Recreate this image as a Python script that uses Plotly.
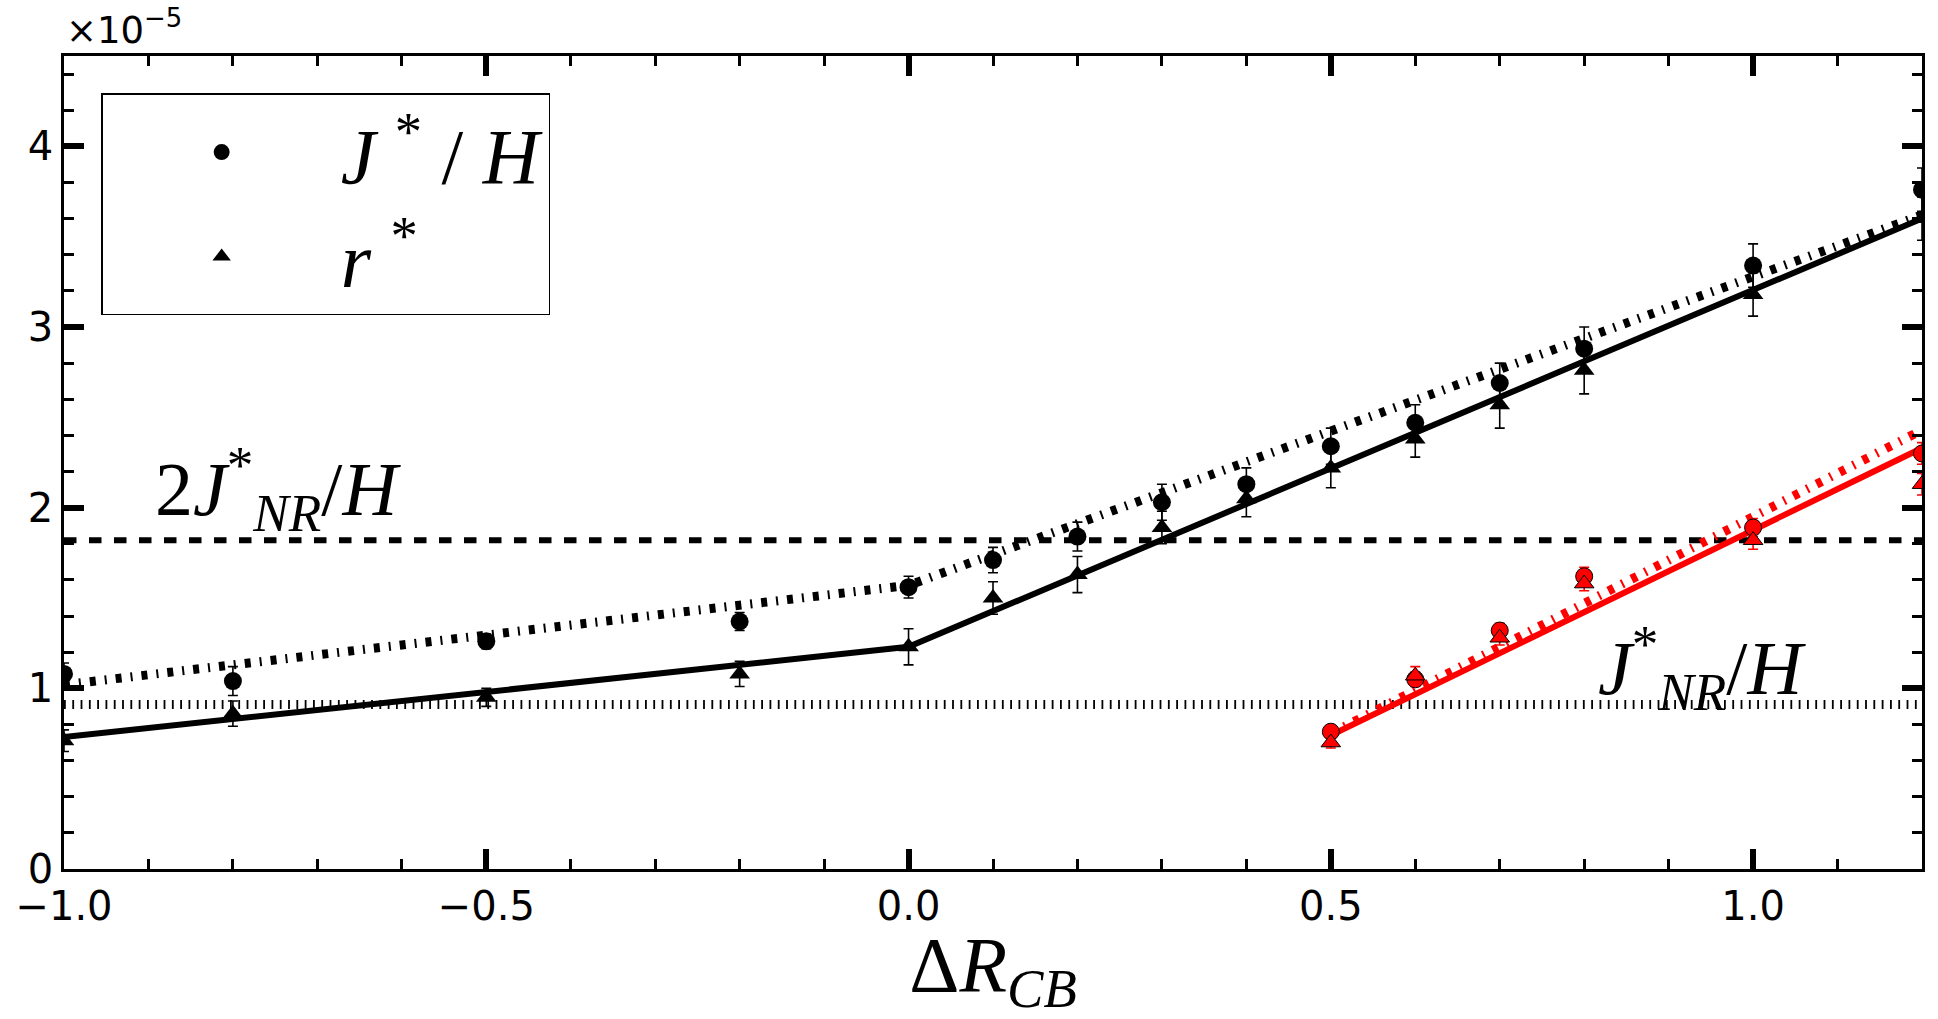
import plotly.graph_objects as go

# ---- data (values in units of 1e-5) ----
dR_black = [-1.0, -0.8, -0.5, -0.2, 0.0, 0.1, 0.2, 0.3, 0.4, 0.5, 0.6, 0.7, 0.8, 1.0, 1.2]
J_black = [1.08, 1.04, 1.26, 1.37, 1.56, 1.71, 1.84, 2.03, 2.13, 2.34, 2.47, 2.69, 2.88, 3.34, 3.76]
J_black_err = [0.06, 0.08, 0.04, 0.05, 0.06, 0.07, 0.08, 0.10, 0.09, 0.10, 0.10, 0.11, 0.12, 0.12, 0.12]
r_black = [0.71, 0.86, 0.95, 1.08, 1.23, 1.50, 1.63, 1.89, 2.05, 2.22, 2.38, 2.57, 2.76, 3.18, 3.60]
r_black_err = [0.06, 0.07, 0.05, 0.07, 0.10, 0.09, 0.10, 0.09, 0.10, 0.11, 0.10, 0.13, 0.13, 0.12, 0.12]

dR_red = [0.5, 0.6, 0.7, 0.8, 1.0, 1.2]
J_red = [0.76, 1.05, 1.32, 1.62, 1.89, 2.30]
J_red_err = [0.03, 0.04, 0.04, 0.05, 0.05, 0.06]
r_red = [0.70, 1.07, 1.28, 1.58, 1.82, 2.13]
r_red_err = [0.03, 0.05, 0.04, 0.04, 0.05, 0.06]

fitJ_black_x = [-1.0, 0.0, 1.2]
fitJ_black_y = [1.02, 1.57, 3.62]
fitr_black_x = [-1.0, 0.0, 1.2]
fitr_black_y = [0.73, 1.23, 3.60]
fitJ_red_x = [0.5, 1.2]
fitJ_red_y = [0.75, 2.43]
fitr_red_x = [0.5, 1.2]
fitr_red_y = [0.74, 2.33]

J_NR = 0.91          # J*_NR/H
two_J_NR = 1.82      # 2 J*_NR/H
x_range = [-1.0, 1.2]
y_range = [0, 4.5]
x_ticks = [-1.0, -0.5, 0.0, 0.5, 1.0]
y_ticks = [0, 1, 2, 3, 4]

MATH = "Liberation Serif"
TICKF = "DejaVu Sans"

fig = go.Figure()

# reference horizontal lines
fig.add_trace(go.Scatter(x=x_range, y=[two_J_NR, two_J_NR], mode="lines",
                         line=dict(color="black", width=6, dash="12.5px,12.5px"),
                         showlegend=False, hoverinfo="skip"))
fig.add_trace(go.Scatter(x=x_range, y=[J_NR, J_NR], mode="lines",
                         line=dict(color="black", width=9, dash="1.8px,6.5px"),
                         showlegend=False, hoverinfo="skip"))

# fit lines
dashdot = "6px,9px,2px,9px"
fig.add_trace(go.Scatter(x=fitJ_black_x, y=fitJ_black_y, mode="lines",
                         line=dict(color="black", width=9, dash=dashdot),
                         showlegend=False, hoverinfo="skip"))
fig.add_trace(go.Scatter(x=fitr_black_x, y=fitr_black_y, mode="lines",
                         line=dict(color="black", width=6),
                         showlegend=False, hoverinfo="skip"))
fig.add_trace(go.Scatter(x=fitJ_red_x, y=fitJ_red_y, mode="lines",
                         line=dict(color="red", width=9, dash=dashdot),
                         showlegend=False, hoverinfo="skip"))
fig.add_trace(go.Scatter(x=fitr_red_x, y=fitr_red_y, mode="lines",
                         line=dict(color="red", width=6),
                         showlegend=False, hoverinfo="skip"))

# data points
fig.add_trace(go.Scatter(x=dR_black, y=J_black, mode="markers",
                         name="<i>J</i> <sup>*</sup> / <i>H</i>",
                         marker=dict(symbol="circle", size=18, color="black"),
                         error_y=dict(type="data", array=J_black_err, color="black",
                                      thickness=1.6, width=5)))
fig.add_trace(go.Scatter(x=dR_black, y=r_black, mode="markers",
                         name="<i>r</i> <sup>*</sup>",
                         marker=dict(symbol="triangle-up", size=18, color="black"),
                         error_y=dict(type="data", array=r_black_err, color="black",
                                      thickness=1.6, width=5)))
fig.add_trace(go.Scatter(x=dR_red, y=J_red, mode="markers", showlegend=False,
                         marker=dict(symbol="circle", size=17, color="red",
                                     line=dict(color="black", width=1)),
                         error_y=dict(type="data", array=J_red_err, color="red",
                                      thickness=1.6, width=5)))
fig.add_trace(go.Scatter(x=dR_red, y=r_red, mode="markers", showlegend=False,
                         marker=dict(symbol="triangle-up", size=17, color="red",
                                     line=dict(color="black", width=1)),
                         error_y=dict(type="data", array=r_red_err, color="red",
                                      thickness=1.6, width=5)))

axis_common = dict(showline=True, linecolor="black", linewidth=2.5, mirror="allticks",
                   ticks="inside", ticklen=20, tickwidth=6, tickcolor="black",
                   showgrid=False, zeroline=False,
                   tickfont=dict(family=TICKF, size=40, color="black"))

fig.update_xaxes(range=x_range, tickvals=x_ticks, tickformat=".1f",
                 minor=dict(dtick=0.1, tick0=-1.0, ticks="inside", ticklen=10,
                            tickwidth=2.5, tickcolor="black", showgrid=False),
                 title=dict(text="Δ<i>R</i><sub><i>CB</i></sub>",
                            font=dict(family=MATH, size=78, color="black"), standoff=10),
                 **axis_common)
fig.update_yaxes(range=y_range, tickvals=y_ticks, tickformat="d",
                 minor=dict(dtick=0.2, tick0=0, ticks="inside", ticklen=10,
                            tickwidth=2.5, tickcolor="black", showgrid=False),
                 **axis_common)

fig.add_annotation(x=-0.747, y=2.1, xref="x", yref="y", showarrow=False,
                   text="2<i>J</i><sup>*</sup><sub><i>NR</i></sub>/<i>H</i>",
                   font=dict(family=MATH, size=76, color="black"))
fig.add_annotation(x=0.94, y=1.11, xref="x", yref="y", showarrow=False,
                   text="<i>J</i><sup>*</sup><sub><i>NR</i></sub>/<i>H</i>",
                   font=dict(family=MATH, size=76, color="black"))
fig.add_annotation(x=0, y=1, xref="paper", yref="paper", xanchor="left", yanchor="bottom",
                   showarrow=False, text="×10<sup>−5</sup>", yshift=2,
                   font=dict(family=TICKF, size=37, color="black"))

fig.update_layout(
    width=1938, height=1019, autosize=False,
    margin=dict(l=64, r=16, t=56, b=150),
    paper_bgcolor="white", plot_bgcolor="white",
    legend=dict(x=0.02, y=0.954, xanchor="left", yanchor="top",
                bgcolor="white", bordercolor="black", borderwidth=1.5,
                font=dict(family=MATH, size=78, color="black"),
                itemsizing="trace", itemwidth=228, tracegroupgap=72),
)

fig.write_html("out.html")
